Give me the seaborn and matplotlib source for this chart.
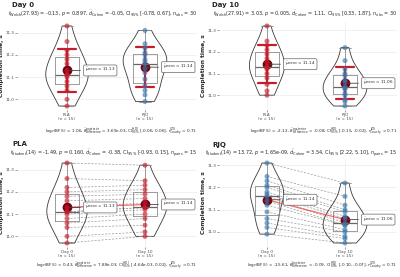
import numpy as np
import pandas as pd
import seaborn as sns
import matplotlib.pyplot as plt

# completion times (s), 15 participants per group, same order on both days
pla_day0 = [10.97, 11.00, 11.04, 11.06, 11.08, 11.10, 11.11, 11.11, 11.13, 11.16, 11.18, 11.20, 11.22, 11.26, 11.33]
pla_day10 = [11.00, 11.02, 11.05, 11.08, 11.10, 11.12, 11.13, 11.13, 11.15, 11.17, 11.19, 11.21, 11.23, 11.25, 11.32]
rjq_day0 = [10.99, 11.02, 11.04, 11.06, 11.09, 11.12, 11.14, 11.16, 11.17, 11.18, 11.20, 11.21, 11.23, 11.25, 11.31]
rjq_day10 = [10.95, 10.97, 10.98, 11.00, 11.01, 11.03, 11.03, 11.04, 11.06, 11.07, 11.09, 11.10, 11.12, 11.16, 11.22]

groups = ["PLA", "RJQ"]
days = ["Day 0", "Day 10"]

subtitles = [
    r"$t_{\mathrm{Welch}}$(27.93) = -0.13, $p$ = 0.897, $\widehat{d}_{\mathrm{Cohen}}$ = -0.05, CI$_{95\%}$ [-0.78, 0.67], $n_{\mathrm{obs}}$ = 30",
    r"$t_{\mathrm{Welch}}$(27.91) = 3.03, $p$ = 0.005, $\widehat{d}_{\mathrm{Cohen}}$ = 1.11, CI$_{95\%}$ [0.33, 1.87], $n_{\mathrm{obs}}$ = 30",
    r"$t_{\mathrm{Student}}$(14) = -1.49, $p$ = 0.160, $\widehat{d}_{\mathrm{Cohen}}$ = -0.38, CI$_{95\%}$ [-0.93, 0.15], $n_{\mathrm{pairs}}$ = 15",
    r"$t_{\mathrm{Student}}$(14) = 13.72, $p$ = 1.65e-09, $\widehat{d}_{\mathrm{Cohen}}$ = 3.54, CI$_{95\%}$ [2.22, 5.10], $n_{\mathrm{pairs}}$ = 15",
]
captions = [
    r"log$_e$(BF$_{01}$) = 1.06, $\widehat{\delta}_{\mathrm{difference}}^{\mathrm{posterior}}$ = 3.69e-03, CI$_{95\%}^{\mathrm{HDI}}$ [-0.06, 0.06], $r_{\mathrm{Cauchy}}^{\mathrm{JZS}}$ = 0.71",
    r"log$_e$(BF$_{01}$) = -2.12, $\widehat{\delta}_{\mathrm{difference}}^{\mathrm{posterior}}$ = -0.08, CI$_{95\%}^{\mathrm{HDI}}$ [-0.15, -0.02], $r_{\mathrm{Cauchy}}^{\mathrm{JZS}}$ = 0.71",
    r"log$_e$(BF$_{01}$) = 0.43, $\widehat{\delta}_{\mathrm{difference}}^{\mathrm{posterior}}$ = 7.88e-03, CI$_{95\%}^{\mathrm{HDI}}$ [-4.64e-03, 0.02], $r_{\mathrm{Cauchy}}^{\mathrm{JZS}}$ = 0.71",
    r"log$_e$(BF$_{01}$) = -15.61, $\widehat{\delta}_{\mathrm{difference}}^{\mathrm{posterior}}$ = -0.09, CI$_{95\%}^{\mathrm{HDI}}$ [-0.10, -0.07], $r_{\mathrm{Cauchy}}^{\mathrm{JZS}}$ = 0.71",
]

red = "#C41E2E"
blue = "#3A78AE"
darkred = "#7A0010"

sns.set_theme(style="white")
plt.rcParams["font.family"] = ["DejaVu Sans"]

W, H = 400, 277
fig = plt.figure(figsize=(4, 2.77), dpi=100)


def px_axes(l, t, r, b):
    return fig.add_axes([l / W, 1 - b / H, (r - l) / W, (b - t) / H])


def panel(ax, a, b, labels, colors, paired, title, sub, cap, ox, ty, sy, cy, xlo):
    df = pd.DataFrame({"cond": [labels[0]] * len(a) + [labels[1]] * len(b),
                       "time": a + b,
                       "id": list(range(len(a))) + list(range(len(b)))})
    ticklabels = [f"{l}\n(n = {len(v)})" for l, v in zip(labels, [a, b])]

    if paired:
        for y0, y1 in zip(a, b):
            ax.plot([0, 1], [y0, y1], ls=(0, (3, 2)), color="#9A9A9A", lw=0.5, zorder=1)

    sns.violinplot(data=df, x="cond", y="time", order=labels, fill=False, inner=None,
                   cut=0, width=0.56, color="#3A3A3A", linewidth=0.6, ax=ax)
    sns.boxplot(data=df, x="cond", y="time", order=labels, fill=False, width=0.3,
                color="#8C8C8C", linewidth=0.6, showfliers=False,
                medianprops={"color": "#666666", "linewidth": 0.9}, ax=ax)
    sns.stripplot(data=df, x="cond", y="time", order=labels, hue="cond",
                  palette=dict(zip(labels, colors)), jitter=False, size=3.6,
                  alpha=0.65, linewidth=0, legend=False, zorder=3, ax=ax)

    if paired:
        sns.pointplot(data=df, x="cond", y="time", order=labels, errorbar=None,
                      color="#F03030", markers="", linewidth=0.9, alpha=0.7, ax=ax)
    else:
        sns.pointplot(data=df, x="cond", y="time", order=labels, errorbar="sd",
                      capsize=0.24, color=red, linestyle="none", markersize=0,
                      err_kws={"linewidth": 1.6}, ax=ax)
    sns.pointplot(data=df, x="cond", y="time", order=labels, errorbar=None,
                  color=darkred, linestyle="none", markersize=5, ax=ax)

    for i, v in enumerate([a, b]):
        m = np.mean(v)
        ax.annotate(r"$\hat{\mu}_{\mathrm{mean}}$ = " + f"{m:.2f}", xy=(i, m),
                    xytext=(i + 0.23, m), ha="left", va="center", fontsize=3.0,
                    bbox=dict(boxstyle="round,pad=0.35", fc="white", ec="#666666", lw=0.5),
                    arrowprops=dict(arrowstyle="-", color="#444444", lw=0.6), zorder=6)

    allv = np.array(a + b)
    pad = (allv.max() - allv.min()) * 0.05
    ax.set_ylim(allv.min() - pad, allv.max() + pad)
    ax.set_xlim(xlo, 1.667)
    ax.set_yticks([11.0, 11.1, 11.2, 11.3])
    ax.set_yticklabels(["11.0", "11.1", "11.2", "11.3"])
    ax.set_xticks([0, 1])
    ax.set_xticklabels(ticklabels, fontsize=3.0, color="#4D4D4D", linespacing=1.1)
    ax.tick_params(axis="y", labelsize=3.0, labelcolor="#4D4D4D", length=1.5, width=0.4,
                   pad=0.6, left=True, color="#4D4D4D")
    ax.tick_params(axis="x", length=1.5, width=0.4, pad=0.8, bottom=True, color="#4D4D4D")
    ax.grid(axis="y", color="#EBEBEB", lw=0.5)
    ax.grid(axis="x", color="#EBEBEB", lw=0.5)
    ax.set_axisbelow(True)
    for s in ax.spines.values():
        s.set_visible(False)
    ax.set_xlabel("")
    ax.set_ylabel("Completion time, s", fontsize=4.2, fontweight="bold", labelpad=0.8)

    fig.text((ox + 12) / W, 1 - ty / H, title, fontsize=5.0, fontweight="bold",
             ha="left", va="center")
    fig.text((ox + 197) / W, 1 - sy / H, sub, fontsize=3.55, ha="right", va="center")
    fig.text((ox + 197) / W, 1 - cy / H, cap, fontsize=3.0, ha="right", va="center")


ax1 = px_axes(17, 22, 197, 110)
panel(ax1, pla_day0, rjq_day0, groups, [red, blue], False, "Day 0",
      subtitles[0], captions[0], 0, 5.0, 14, 132, -0.641)
ax2 = px_axes(219, 22, 397, 110)
panel(ax2, pla_day10, rjq_day10, groups, [red, blue], False, "Day 10",
      subtitles[1], captions[1], 200, 5.0, 14, 132, -0.615)
ax3 = px_axes(17, 159, 197, 247)
panel(ax3, pla_day0, pla_day10, days, [red, red], True, "PLA",
      subtitles[2], captions[2], 0, 144.5, 153.5, 265.5, -0.641)
ax4 = px_axes(219, 159, 397, 247)
panel(ax4, rjq_day0, rjq_day10, days, [blue, blue], True, "RJQ",
      subtitles[3], captions[3], 200, 144.5, 153.5, 265.5, -0.615)

fig.savefig("out.png", dpi=100)
